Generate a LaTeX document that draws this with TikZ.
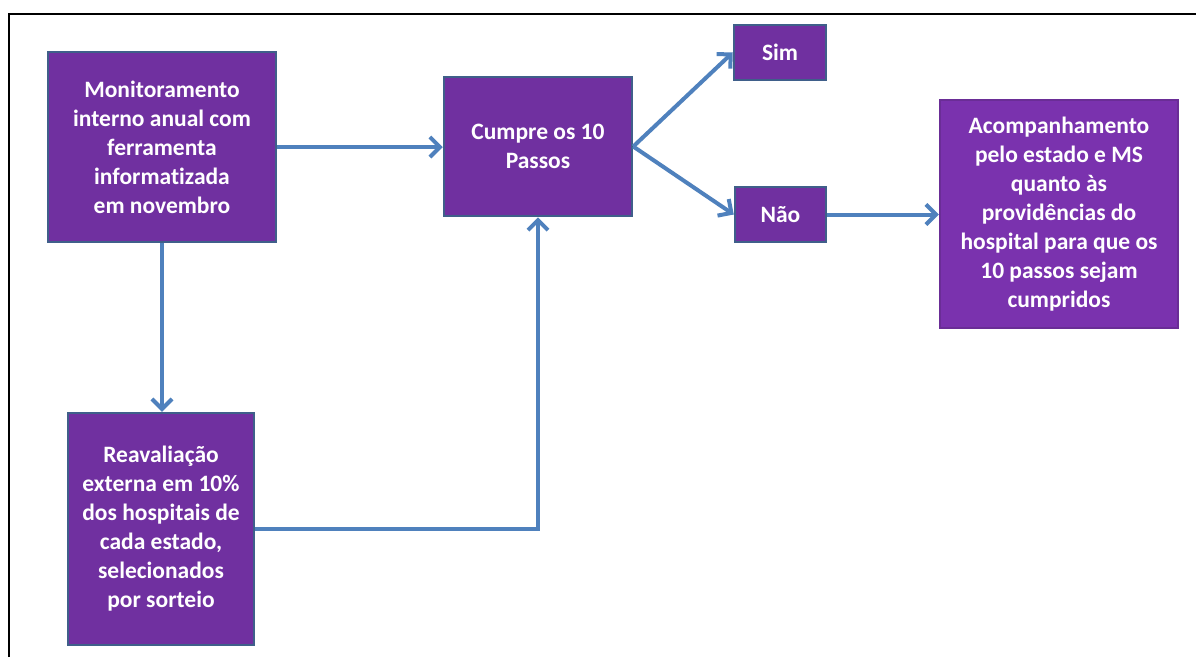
\documentclass[tikz,border=0pt]{standalone}
\usepackage{fontspec}
\setmainfont{Carlito}[Ligatures=NoCommon]
\usetikzlibrary{arrows.meta}
\definecolor{boxfill}{HTML}{7030A0}
\definecolor{boxline}{HTML}{3F5F8A}
\definecolor{linkblue}{HTML}{4F81BD}
\definecolor{bevelfill}{HTML}{7A32AE}
\definecolor{bevelline}{HTML}{6A2D96}
\begin{document}
\begin{tikzpicture}[x=1pt,y=-1pt,
  stepbox/.style={draw=boxline, line width=2.5pt, fill=boxfill, text=white,
    font=\fontsize{23.5}{29}\selectfont\bfseries, align=center,
    inner sep=0pt},
  link/.style={draw=linkblue, line width=4pt,
    -{Straight Barb[length=10pt,width=20pt,line width=4pt]}}]
\useasboundingbox (0,0) rectangle (1196,657);
\fill[white] (0,0) rectangle (1196,657);
% outer frame
\draw[line width=2pt, black] (9,657) -- (9,14) -- (1196,14);

% boxes
\node[stepbox, minimum width=228pt, minimum height=190pt] (mon) at (162,147)
  {Monitoramento\\interno anual com\\ferramenta\\informatizada\\em novembro};
\node[stepbox, minimum width=186pt, minimum height=232pt] (reav) at (161,529)
  {Reavaliação\\externa em 10\%\\dos hospitais de\\cada estado,\\selecionados\\por sorteio};
\node[stepbox, minimum width=188pt, minimum height=139pt] (cump) at (538,146.5)
  {Cumpre os 10\\Passos};
\node[stepbox, minimum width=92pt, minimum height=55pt] (sim) at (780,52.5) {Sim};
\node[stepbox, minimum width=91pt, minimum height=55pt] (nao) at (780.5,214.5) {Não};
\node[stepbox, draw=bevelline, fill=bevelfill, minimum width=238pt, minimum height=228pt] (acomp) at (1059,214)
  {Acompanhamento\\pelo estado e MS\\quanto às\\providências do\\hospital para que os\\10 passos sejam\\cumpridos};

% connectors
\draw[link] (mon.east) -- (mon.east -| cump.west);
\draw[link] (mon.south) -- (mon.south |- reav.north);
\draw[link] (reav.east) -| (cump.south);
\draw[link] (cump.east) -- (sim.west);
\draw[link] (cump.east) -- (nao.west);
\draw[link] (nao.east) -- (nao.east -| acomp.west);
\end{tikzpicture}
\end{document}
